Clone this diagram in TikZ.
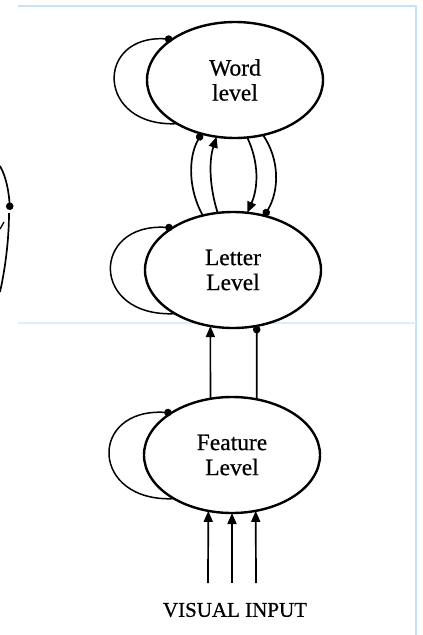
\documentclass[tikz,border=0pt]{standalone}
\usepackage{fontspec}
\setmainfont{Liberation Serif}
\newfontfamily\scanfont{Liberation Serif}[FakeBold=0.6]
\usetikzlibrary{arrows.meta,shapes.geometric}
\definecolor{frameblue}{RGB}{196,226,250}
\definecolor{framefaint}{RGB}{222,238,252}
\begin{document}
\begin{tikzpicture}[x=1pt,y=-1pt,
  levelbox/.style={ellipse, draw, line width=2.4pt, fill=white, minimum width=176pt, minimum height=116pt, inner sep=0pt, outer sep=0pt, align=center, font=\scanfont\fontsize{23.5}{25}\selectfont},
  excite/.style={line width=1.7pt, -{Triangle[length=11pt,width=9pt]}},
  inhib/.style={line width=1.7pt, -{Circle[length=7.5pt]}},
  selfloop/.style={line width=1.5pt, -{Circle[length=7.5pt]}},
  framestroke/.style={draw=frameblue, line width=2.2pt},
  faintstroke/.style={draw=framefaint, line width=1.2pt}]
\useasboundingbox (0,0) rectangle (423,635);
% frame lines of the scanned page
\draw[framestroke] (18,6) -- (416,6) -- (416,635);
\draw[faintstroke] (18,323) -- (416,323);
% fragment at the left edge
\coordinate (f1) at (0,166);
\coordinate (f2) at (10,210);
\coordinate (f3) at (9,213);
\coordinate (f4) at (0,292);
\coordinate (f5) at (0,229);
\coordinate (f6) at (4,222);
\draw[inhib] (f1) .. controls (7,178) and (9,195) .. (f2);
\draw[line width=1.7pt] (f3) .. controls (9,240) and (5,270) .. (f4);
\draw[line width=1.3pt] (f5) -- (f6);
% levels
\node[levelbox] (word) at (235,80) {Word\\level};
\node[levelbox] (letter) at (233,270) {Letter\\Level};
\node[levelbox] (feature) at (232,455) {Feature\\Level};
% self loops
\draw[selfloop] (word.217) .. controls +(-81,4) and +(-78,-5) .. (word.147);
\draw[selfloop] (letter.217) .. controls +(-85,4) and +(-82,-5) .. (letter.145);
\draw[selfloop] (feature.217) .. controls +(-84,4) and +(-84,-5) .. (feature.145);
% word <-> letter
\draw[inhib] (letter.119) .. controls +(-14,-25) and +(-14,25) .. (word.238);
\draw[excite] (letter.105) .. controls +(-8,-25) and +(-8,25) .. (word.252);
\draw[excite] (word.282) .. controls +(12,25) and +(11,-25) .. (letter.76);
\draw[inhib] (word.297) .. controls +(17,25) and +(15,-25) .. (letter.60);
% feature -> letter
\draw[excite] (feature.111) -- (letter.248);
\draw[inhib] (feature.66) -- (letter.293);
% visual input
\coordinate (in1) at (208,583);
\coordinate (in2) at (232,583);
\coordinate (in3) at (256,583);
\draw[excite] (in1) -- (feature.247);
\draw[excite] (in2) -- (feature.270);
\draw[excite] (in3) -- (feature.293);
\node[font=\scanfont\fontsize{21}{25}\selectfont] (vis) at (235,610) {VISUAL INPUT};
\end{tikzpicture}
\end{document}
